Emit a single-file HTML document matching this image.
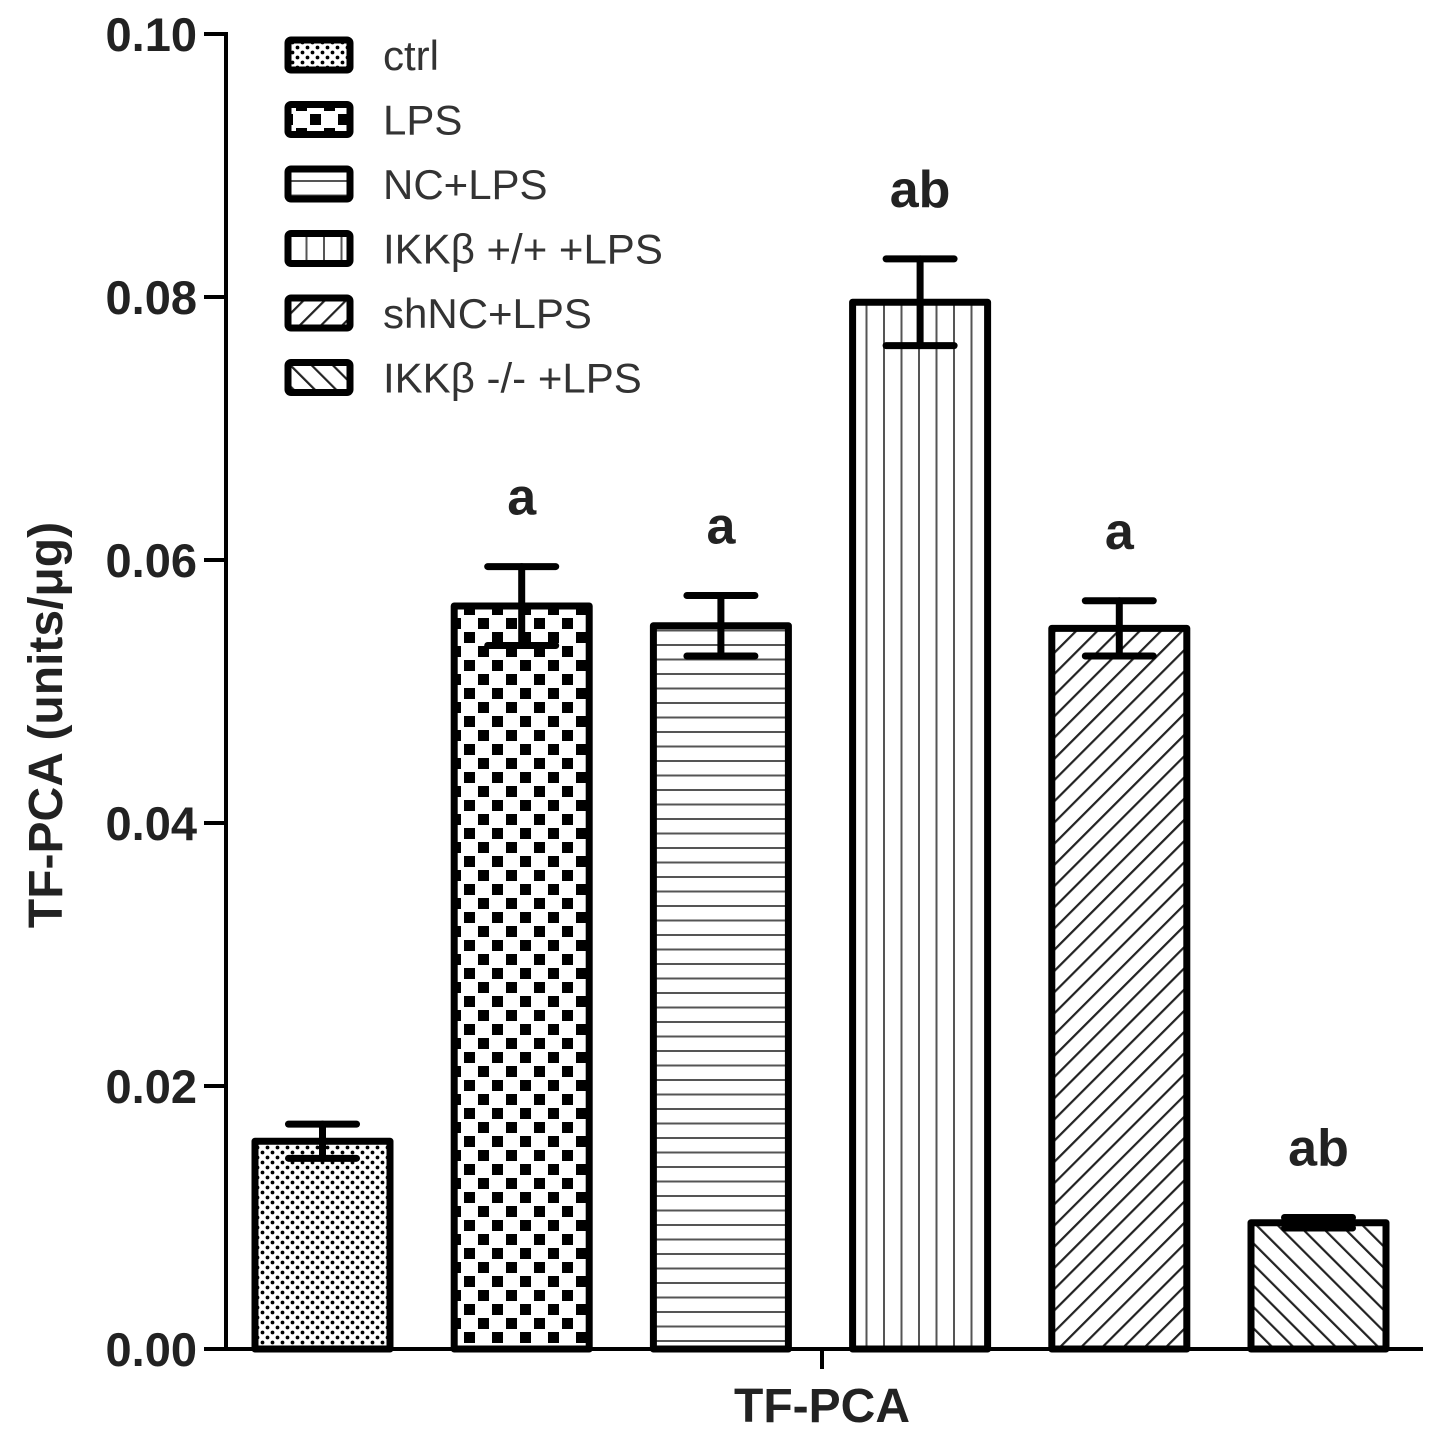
<!DOCTYPE html>
<html><head><meta charset="utf-8"><style>
html,body{margin:0;padding:0;background:#fff;}
svg{display:block;font-family:"Liberation Sans",sans-serif;}
</style></head><body>
<svg id="chart" width="1441" height="1441" viewBox="0 0 1441 1441">
<defs>
<pattern id="p0" width="10" height="10" patternUnits="userSpaceOnUse"><rect width="10" height="10" fill="#fff"/><circle cx="2.5" cy="2.5" r="1.9" fill="#000"/><circle cx="7.5" cy="7.5" r="1.9" fill="#000"/></pattern>
<pattern id="p1" width="28" height="28" patternUnits="userSpaceOnUse"><rect width="28" height="28" fill="#fff"/><rect x="2" y="2" width="11" height="11" fill="#000"/><rect x="16" y="16" width="11" height="11" fill="#000"/></pattern>
<pattern id="p2" width="14.5" height="14.5" patternUnits="userSpaceOnUse"><rect width="14.5" height="14.5" fill="#fff"/><rect y="6" width="14.5" height="2" fill="#555"/></pattern>
<pattern id="p3" width="17.5" height="17.5" patternUnits="userSpaceOnUse"><rect width="17.5" height="17.5" fill="#fff"/><rect x="8" width="2" height="17.5" fill="#555"/></pattern>
<pattern id="p4" width="15" height="15" patternUnits="userSpaceOnUse" patternTransform="rotate(45)"><rect width="15" height="15" fill="#fff"/><rect x="6" width="2.2" height="15" fill="#222"/></pattern>
<pattern id="p5" width="15" height="15" patternUnits="userSpaceOnUse" patternTransform="rotate(-45)"><rect width="15" height="15" fill="#fff"/><rect x="6" width="2.2" height="15" fill="#222"/></pattern>
</defs>
<g id="axes"></g>
<g id="bars"></g>
<g id="legend"></g>
</svg>
<script>
const categories = ["ctrl","LPS","NC+LPS","IKKβ +/+ +LPS","shNC+LPS","IKKβ -/- +LPS"];
const values = [0.0158,0.0565,0.0550,0.0796,0.0548,0.0096];
const errors = [0.0013,0.0030,0.0023,0.0033,0.0021,0.0004];
const sigLabels = ["","a","a","ab","a","ab"];
const yTicks = [0,0.02,0.04,0.06,0.08,0.10];
const yTickLabels = ["0.00","0.02","0.04","0.06","0.08","0.10"];

const NS="http://www.w3.org/2000/svg";
const y0=1349, yTop=34, yMax=0.10;
function y(v){return y0-(v/yMax)*(y0-yTop);}
function x(i){return 255+i*199.2;}
const bw=135;
function mk(tag,attrs,parent,text){const e=document.createElementNS(NS,tag);for(const k in attrs)e.setAttribute(k,attrs[k]);if(text!==undefined)e.textContent=text;parent.appendChild(e);return e;}

const axes=document.getElementById('axes');
let e=mk('line',{x1:226,y1:yTop-2,x2:226,y2:y0+2,stroke:'#000','stroke-width':4},axes);


e=mk('line',{x1:224,y1:y0,x2:1423,y2:y0,stroke:'#000','stroke-width':4},axes);


e=mk('line',{x1:822,y1:y0,x2:822,y2:y0+20,stroke:'#000','stroke-width':4},axes);


yTicks.forEach((t,i)=>{
  const tk=mk('line',{x1:204,y1:y(t),x2:226,y2:y(t),stroke:'#000','stroke-width':4},axes);
  
  
  const tl=mk('text',{x:197,y:y(t)+17,'text-anchor':'end','font-size':47,'font-weight':'bold',fill:'#222'},axes,yTickLabels[i]);
  
  
});
e=mk('text',{x:822,y:1422,'text-anchor':'middle','font-size':48,'font-weight':'bold',fill:'#222'},axes,'TF-PCA');


e=mk('text',{transform:'translate(62,725) rotate(-90)','text-anchor':'middle','font-size':48,'font-weight':'bold',fill:'#222'},axes,'TF-PCA  (units/μg)');



const bars=document.getElementById('bars');
values.forEach((v,i)=>{
  const bx=x(i), by=y(v);
  const r=mk('rect',{x:bx,y:by,width:bw,height:y0-by,fill:'url(#p'+i+')',stroke:'#000','stroke-width':7,'stroke-linejoin':'round'},bars);
  
  
  const cx=bx+bw/2, hi=y(v+errors[i]), lo=y(v-errors[i]);
  const g=mk('g',{stroke:'#000','stroke-width':7,'stroke-linecap':'round'},bars);
  
  
  mk('line',{x1:cx,y1:hi,x2:cx,y2:lo},g);
  mk('line',{x1:cx-34,y1:hi,x2:cx+34,y2:hi},g);
  mk('line',{x1:cx-34,y1:lo,x2:cx+34,y2:lo},g);
  if(sigLabels[i]){
    const s=mk('text',{x:cx,y:hi-52,'text-anchor':'middle','font-size':52,'font-weight':'bold',fill:'#222'},bars,sigLabels[i]);
    
    
  }
});

const legend=document.getElementById('legend');
categories.forEach((c,i)=>{
  const ly=55+i*64.5;
  const g=mk('g',{},legend);
  
  
  mk('rect',{x:288,y:ly-15,width:62,height:30,fill:'url(#p'+i+')',stroke:'#000','stroke-width':7,rx:3},g);
  mk('text',{x:383,y:ly+15,'font-size':42,fill:'#333'},g,c);
});
</script>
</body></html>
